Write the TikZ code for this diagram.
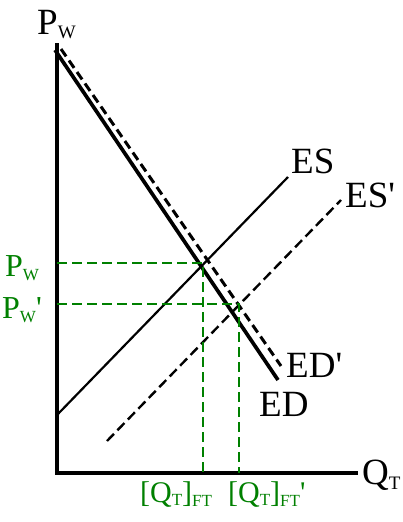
\documentclass[tikz,border=0pt]{standalone}
\usepackage{fontspec}
\newfontfamily\tnr{Liberation Serif}
\definecolor{grn}{RGB}{0,128,0}
\begin{document}
\begin{tikzpicture}[x=1pt,y=-1pt,
  lbl/.style={anchor=base west,inner sep=0pt,font=\tnr\fontsize{37}{37}\selectfont},
  glbl/.style={anchor=base west,inner sep=0pt,text=grn,font=\tnr\fontsize{32}{32}\selectfont},
  qlbl/.style={glbl,font=\tnr\fontsize{30}{30}\selectfont},
  guide/.style={grn,line width=1.7pt,dash pattern=on 10pt off 5pt},
  dcurve/.style={line width=3pt,dash pattern=on 9pt off 5pt}]
\useasboundingbox (0,0) rectangle (402,522);
\newcommand{\sbb}[2]{\raisebox{-#1}{\fontsize{19}{19}\selectfont #2}}
\newcommand{\sbs}[2]{\raisebox{-#1}{\fontsize{17}{17}\selectfont #2}}
% axes
\coordinate (Ytop) at (57,43);
\coordinate (O) at (57,473);
\coordinate (Xend) at (358,473);
\draw[line width=4pt,line join=miter] (Ytop) -- (O) -- (Xend);
% curves
\coordinate (EDa) at (55,50);   \coordinate (EDb) at (278,380);
\coordinate (EDpa) at (61,49);  \coordinate (EDpb) at (281,366);
\coordinate (ESa) at (57,415);  \coordinate (ESb) at (288,177);
\coordinate (ESpa) at (107,441);\coordinate (ESpb) at (341,200);
\draw[line width=3.7pt] (EDa) -- (EDb);
\draw[dcurve] (EDpa) -- (EDpb);
\draw[line width=2.2pt] (ESa) -- (ESb);
\draw[dcurve,line width=2.4pt,dash pattern=on 10pt off 5pt] (ESpa) -- (ESpb);
% equilibria and guides
\coordinate (E1) at (203,263);
\coordinate (E2) at (239,304);
\coordinate (P1) at (57,263);
\coordinate (P2) at (57,304);
\coordinate (Q1) at (203,473);
\coordinate (Q2) at (239,473);
\draw[guide] (P1) -- (E1) -- (Q1);
\draw[guide] (P2) -- (E2) -- (Q2);
% labels
\node[lbl] (lPw) at (37,34) {P\sbb{5pt}{W}};
\node[lbl] (lES) at (291,173) {ES};
\node[lbl] (lESp) at (345,207) {ES'};
\node[lbl] (lEDp) at (286,377) {ED'};
\node[lbl] (lED) at (259,416) {ED};
\node[lbl] (lQT) at (362,484) {Q\sbb{5pt}{T}};
\node[glbl] (gP1) at (5,276) {P\sbs{4pt}{W}};
\node[glbl] (gP2) at (2,318) {P\sbs{4pt}{W}'};
\node[qlbl] (gQ1) at (140,502) {[Q\sbs{3pt}{T}]\sbs{4pt}{FT}};
\node[qlbl] (gQ2) at (228,502) {[Q\sbs{3pt}{T}]\sbs{4pt}{FT}'};
\end{tikzpicture}
\end{document}
